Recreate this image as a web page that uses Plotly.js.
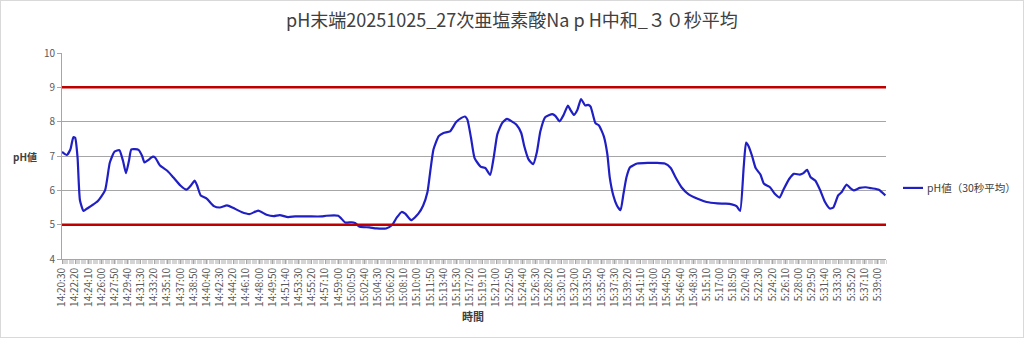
<!DOCTYPE html>
<html><head><meta charset="utf-8">
<script src="https://cdn.plot.ly/plotly-3.0.1.min.js"></script>
<style>html,body{margin:0;padding:0;background:#fff}#chart{width:1024px;height:338px}
#frame{position:absolute;left:0;top:0;width:1022px;height:336px;border:1px solid #d9d9d9;pointer-events:none}</style>
</head><body><div id="chart"></div><div id="frame"></div><script>
const tickLabels=["14:20:30","14:22:20","14:24:10","14:26:00","14:27:50","14:29:40","14:31:30","14:33:20","14:35:10","14:37:00","14:38:50","14:40:40","14:42:30","14:44:20","14:46:10","14:48:00","14:49:50","14:51:40","14:53:30","14:55:20","14:57:10","14:59:00","15:00:50","15:02:40","15:04:30","15:06:20","15:08:10","15:10:00","15:11:50","15:13:40","15:15:30","15:17:20","15:19:10","15:21:00","15:22:50","15:24:40","15:26:30","15:28:20","15:30:10","15:32:00","15:33:50","15:35:40","15:37:30","15:39:20","15:41:10","15:43:00","15:44:50","15:46:40","15:48:30","5:15:10","5:17:00","5:18:50","5:20:40","5:22:30","5:24:20","5:26:10","5:28:00","5:29:50","5:31:40","5:33:30","5:35:20","5:37:10","5:39:00"];
const categoryCount=690;
const labelEvery=11;
// category index of each reading (10 s per category)
const sampleIdx=[0,4,7,9.5,11,13,15,18,21,25,30,36,40,44,48,51,53.5,56,58,64,67,69,72,76,78,82,88,93,99,104,107,111,113,116,121,127,132,138,143,150,157,164,171,177,182,189,195,206,217,221,231,237,242,245,249,257,263,271,276,280,284,287,292,298,302,305.6,308,310.6,315,319,324.5,329.6,334,337,339,342,345,350,354,358,361,364,368,372,376,380,384,386.5,390,394,397,400,404,410,412.5,416,419.5,423,425,428,431,434,437.5,440,442,446,449,453,456,458,461,464,467,469.5,472,475,481,490,497,504,509,513,518,524,531,539,548,555,560,564,567,570,572,574,577,580,584,587,592,596,600,603,608,612,617,620,623,626,630,634,638,642,645,649,652,656,659,662,667,672,677,683,688.5];
const phValues=[7.12,7.03,7.19,7.55,7.53,6.96,5.71,5.40,5.47,5.56,5.69,6.00,6.81,7.13,7.17,6.86,6.50,6.86,7.19,7.18,7.00,6.81,6.88,6.98,6.95,6.72,6.57,6.38,6.14,6.02,6.11,6.28,6.14,5.85,5.76,5.54,5.50,5.56,5.49,5.37,5.31,5.41,5.29,5.25,5.28,5.22,5.24,5.24,5.24,5.26,5.26,5.06,5.07,5.05,4.94,4.92,4.89,4.89,4.99,5.21,5.37,5.32,5.13,5.32,5.56,5.95,6.57,7.19,7.58,7.67,7.72,7.99,8.11,8.15,8.06,7.53,6.94,6.69,6.65,6.45,6.96,7.63,7.96,8.08,8.01,7.91,7.67,7.29,6.91,6.76,7.10,7.72,8.13,8.22,8.17,8.01,8.20,8.47,8.35,8.20,8.35,8.66,8.47,8.49,8.44,7.96,7.89,7.58,7.05,6.38,5.85,5.56,5.42,5.90,6.38,6.67,6.78,6.80,6.80,6.78,6.65,6.38,6.09,5.88,5.76,5.66,5.62,5.61,5.59,5.54,5.40,6.67,7.39,7.29,7.00,6.65,6.46,6.19,6.09,5.90,5.79,6.00,6.33,6.48,6.46,6.50,6.60,6.38,6.28,6.00,5.66,5.47,5.50,5.85,5.95,6.17,6.07,6.00,6.07,6.09,6.06,6.02,5.85];
const limits=[9,5];
const seriesName="pH値（30秒平均）";

const FONT='"Noto Sans CJK JP","Noto Sans",sans-serif';
const tickVals=tickLabels.map((_,i)=>i*labelEvery);

const traces=[{
  x:sampleIdx,y:phValues,type:'scatter',mode:'lines',name:seriesName,
  line:{color:'#1f1fc4',width:2.2,shape:'spline',smoothing:0.5},
  showlegend:false,hoverinfo:'x+y'
}];

const shapes=limits.map(v=>({type:'line',xref:'paper',x0:0,x1:1,yref:'y',y0:v,y1:v,line:{color:'#c00000',width:2.5},layer:'above'}));
// legend key
shapes.push({type:'line',xref:'paper',yref:'paper',x0:1.0206,x1:1.0449,y0:0.345,y1:0.345,line:{color:'#1f1fc4',width:2.2}});

const layout={
  width:1024,height:338,
  margin:{l:62,r:138,t:53,b:79},
  paper_bgcolor:'#fff',plot_bgcolor:'#fff',
  font:{family:FONT,color:'#595959',size:10},
  title:{text:'pH末端20251025_27次亜塩素酸Na p H中和_３０秒平均',font:{family:FONT,size:18,color:'#404040'},x:0.5,xanchor:'center',y:0.94,yref:'container',yanchor:'middle'},
  xaxis:{range:[0,categoryCount-1],tickmode:'array',tickvals:tickVals,ticktext:tickLabels,tickangle:-90,
    tickfont:{size:10,color:'#595959'},showgrid:false,zeroline:false,showline:true,linecolor:'#a6a6a6',linewidth:1,
    ticks:'outside',ticklen:4,tickcolor:'#a6a6a6',
    minor:{tickmode:'linear',tick0:0,dtick:1,ticks:'outside',ticklen:4,tickcolor:'#b8b8b8',tickwidth:0.6,showgrid:false}},
  yaxis:{range:[4,10],tickmode:'linear',tick0:4,dtick:1,tickfont:{size:10,color:'#595959'},
    showgrid:true,gridcolor:'#a6a6a6',gridwidth:1,zeroline:false,showline:true,linecolor:'#a6a6a6',
    ticks:'outside',ticklen:4,tickcolor:'#a6a6a6'},
  shapes:shapes,
  annotations:[
    {text:'<b>pH値</b>',xref:'paper',yref:'paper',x:-0.0445,y:0.5,xanchor:'center',yanchor:'middle',showarrow:false,font:{family:FONT,size:10,color:'#404040'}},
    {text:'<b>時間</b>',xref:'paper',yref:'paper',x:(473-62)/824,y:-(316-259)/206.3,xanchor:'center',yanchor:'middle',showarrow:false,font:{family:FONT,size:11,color:'#404040'}},
    {text:seriesName,xref:'paper',yref:'paper',x:1.0473,y:0.345,xanchor:'left',yanchor:'middle',showarrow:false,font:{family:FONT,size:10.5,color:'#404040'}}
  ]
};
Plotly.newPlot('chart',traces,layout,{displayModeBar:false,staticPlot:true});
</script></body></html>
